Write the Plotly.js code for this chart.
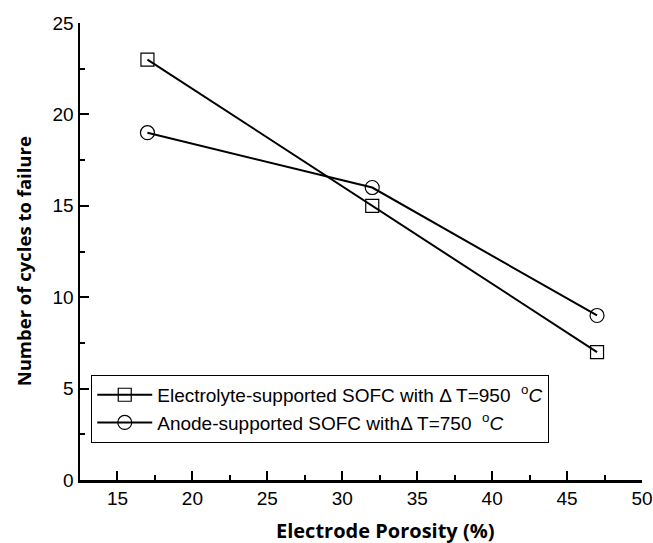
<!DOCTYPE html>
<html>
<head>
<meta charset="utf-8">
<script src="https://cdn.plot.ly/plotly-3.0.1.min.js"></script>
<style>html,body{margin:0;padding:0;background:#fff;}#chart{width:653px;height:543px;}</style>
</head>
<body>
<div id="chart"></div>
<script>
const porosity = [17, 32, 47];
const electrolyteCycles = [23, 15, 7];
const anodeCycles = [19, 16, 9];
const seriesNames = [
  "Electrolyte-supported SOFC with \u0394 T=950  <sup>o</sup><i>C</i>",
  "Anode-supported SOFC with\u0394 T=750  <sup>o</sup><i>C</i>"
];
const xTitle = "Electrode Porosity (%)";
const yTitle = "Number of cycles to failure";

const traces = [
  {x: porosity, y: electrolyteCycles, name: seriesNames[0], type: 'scatter', mode: 'lines+markers',
   line: {color: '#000', width: 2},
   marker: {symbol: 'square-open', size: 13, color: '#000', line: {width: 1.2}}},
  {x: porosity, y: anodeCycles, name: seriesNames[1], type: 'scatter', mode: 'lines+markers',
   line: {color: '#000', width: 2},
   marker: {symbol: 'circle-open', size: 14, color: '#000', line: {width: 1.2}}}
];

const axisCommon = {
  showline: true, linecolor: '#000', linewidth: 2.5, mirror: false,
  ticks: 'inside', ticklen: 9, tickwidth: 2, tickcolor: '#000',
  showgrid: false, zeroline: false,
  tickfont: {family: 'Liberation Sans, Arial, sans-serif', size: 19, color: '#000'},
  minor: {ticks: 'inside', ticklen: 5, tickwidth: 2, tickcolor: '#000', showgrid: false}
};

const titleFont = {family: 'Open Sans, sans-serif', color: '#000', weight: 'bold'};

const layout = {
  width: 653, height: 543,
  margin: {l: 80, r: 11, t: 23, b: 63},
  paper_bgcolor: '#fff', plot_bgcolor: '#fff',
  showlegend: true,
  legend: {x: 0.02, y: 0.23, xanchor: 'left', yanchor: 'top',
    bordercolor: '#000', borderwidth: 1, bgcolor: '#fff',
    font: {family: 'Liberation Sans, Arial, sans-serif', size: 19, color: '#000'},
    tracegroupgap: 0, itemwidth: 55},
  xaxis: Object.assign({}, axisCommon, {
    range: [12.5, 50], tickvals: [15, 20, 25, 30, 35, 40, 45, 50],
    minor: Object.assign({}, axisCommon.minor, {dtick: 2.5, tick0: 12.5})
  }),
  yaxis: Object.assign({}, axisCommon, {
    range: [0, 25], tickvals: [0, 5, 10, 15, 20, 25],
    minor: Object.assign({}, axisCommon.minor, {dtick: 2.5, tick0: 0})
  }),
  annotations: [
    {text: xTitle, xref: 'paper', yref: 'paper', x: 0.543, y: -0.11, xanchor: 'center', yanchor: 'middle',
     showarrow: false, font: Object.assign({size: 20}, titleFont)},
    {text: yTitle, xref: 'paper', yref: 'paper', x: -0.101, y: 0.479, xanchor: 'center', yanchor: 'middle',
     textangle: -90, showarrow: false, font: Object.assign({size: 18.5}, titleFont)}
  ]
};

Plotly.newPlot('chart', traces, layout, {displayModeBar: false, staticPlot: true});
</script>
</body>
</html>
